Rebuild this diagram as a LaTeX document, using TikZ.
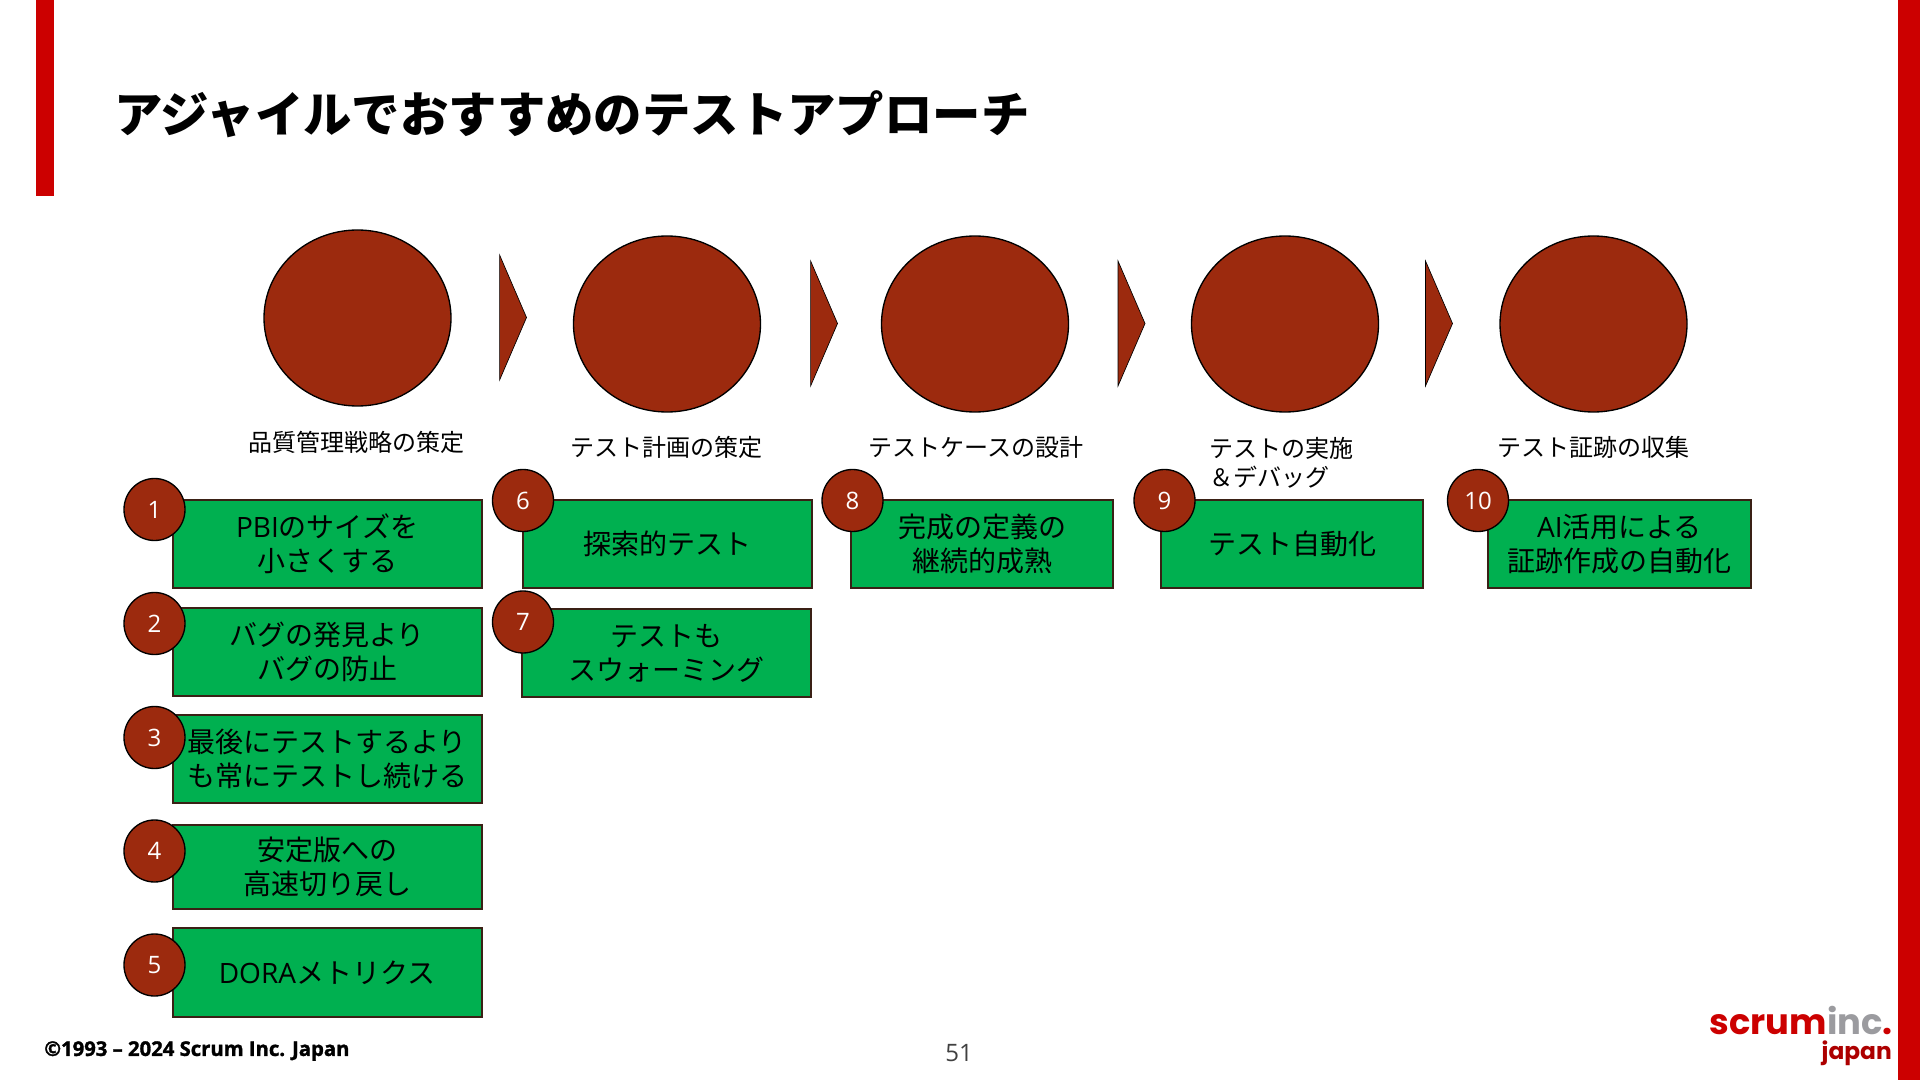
\documentclass[tikz,border=0pt]{standalone}
\usepackage{fontspec}
\usepackage{tikz}
\usetikzlibrary{shapes.geometric}
\setmainfont{Open Sans}
\newfontfamily\jpfont{Noto Sans CJK JP}
\newfontfamily\logofont{Poppins}
\newfontfamily\heavyfont[BoldFeatures={FakeBold=1.5}]{Open Sans}
\definecolor{barred}{HTML}{CC0000}
\definecolor{rust}{HTML}{9C2A0E}
\definecolor{boxgreen}{HTML}{00B050}
\definecolor{edgedark}{HTML}{3A2015}
\definecolor{incgrey}{HTML}{9B9B9F}
\tikzset{
  bar/.style={fill=barred,draw=none},
  bigc/.style={ellipse,draw=black,line width=1pt,fill=rust,minimum width=140.25pt,minimum height=132pt,inner sep=0},
  chev/.style={draw=black,line width=0.5pt,fill=rust},
  numc/.style={ellipse,draw=black,line width=1pt,fill=rust,minimum width=45.75pt,minimum height=46.5pt,inner sep=0,text=white,font=\fontsize{18}{22}\selectfont},
  gbox/.style={rectangle,draw=edgedark,line width=1.5pt,fill=boxgreen,inner sep=0,align=center,font=\fontsize{21}{25.5}\selectfont\jpfont},
  stagelab/.style={inner sep=0,align=center,font=\fontsize{18}{22}\selectfont\jpfont}
}
\begin{document}
\begin{tikzpicture}[x=0.75pt,y=-0.75pt]
\useasboundingbox (0,0) rectangle (1920,1080);
\fill[bar] (36,0) rectangle (54,196);
\fill[bar] (1898,0) rectangle (1920,1080);
\node [anchor=west,inner sep=0,font=\fontsize{36.3}{42}\selectfont\jpfont\bfseries] (title) at (114,114) {アジャイルでおすすめのテストアプローチ};
% stages
\node [bigc] (s1) at (357.5,318) {};
\node [bigc] (s2) at (667,324) {};
\node [bigc] (s3) at (975,324) {};
\node [bigc] (s4) at (1285,324) {};
\node [bigc] (s5) at (1593.5,324) {};
\draw [chev] (499.6,255) -- (526.5,317.5) -- (499.6,380) -- cycle;
\draw [chev] (810.6,261) -- (837.5,323.5) -- (810.6,386) -- cycle;
\draw [chev] (1118,261) -- (1145,323.5) -- (1118,386) -- cycle;
\draw [chev] (1425.5,261) -- (1452.5,323.5) -- (1425.5,386) -- cycle;
\node [stagelab] (l1) at (356.5,442) {品質管理戦略の策定};
\node [stagelab] (l2) at (666.5,447) {テスト計画の策定};
\node [stagelab] (l3) at (976,447) {テストケースの設計};
\node [stagelab,anchor=north west,align=left] (l4) at (1209,437) {テストの実施\\＆デバッグ};
\node [stagelab] (l5) at (1593,447) {テスト証跡の収集};
% green boxes, first column
\node [gbox,minimum width=231.75pt,minimum height=66pt] (b1) at (327,544) {{\rmfamily PBI}のサイズを\\小さくする};
\node [gbox,minimum width=231.75pt,minimum height=66pt] (b2) at (327,652) {バグの発見より\\バグの防止};
\node [gbox,minimum width=231.75pt,minimum height=66pt] (b3) at (327,759) {最後にテストするより\\も常にテストし続ける};
\node [gbox,minimum width=231.75pt,minimum height=63pt] (b4) at (327,867) {安定版への\\高速切り戻し};
\node [gbox,minimum width=231.75pt,minimum height=66.75pt] (b5) at (327,972.5) {{\rmfamily DORA}メトリクス};
% the other columns
\node [gbox,minimum width=216.75pt,minimum height=66pt] (b6) at (667.5,544) {探索的テスト};
\node [gbox,minimum width=216.75pt,minimum height=66pt] (b7) at (666.5,653) {テストも\\スウォーミング};
\node [gbox,minimum width=196.5pt,minimum height=66pt] (b8) at (982,544) {完成の定義の\\継続的成熟};
\node [gbox,minimum width=196.5pt,minimum height=66pt] (b9) at (1292,544) {テスト自動化};
\node [gbox,minimum width=197.25pt,minimum height=66pt] (b10) at (1619.5,544) {{\rmfamily AI}活用による\\証跡作成の自動化};
% numbers
\node [numc] (n1) at (154.5,509.5) {1};
\node [numc] (n2) at (154.5,623.5) {2};
\node [numc] (n3) at (154.5,737.5) {3};
\node [numc] (n4) at (154.5,851) {4};
\node [numc] (n5) at (154.5,965) {5};
\node [numc] (n6) at (523,500.5) {6};
\node [numc] (n7) at (523,622) {7};
\node [numc] (n8) at (852.5,500.5) {8};
\node [numc] (n9) at (1164.5,500.5) {9};
\node [numc] (n10) at (1478,500.5) {10};
% footer
\node [anchor=west,inner sep=0,font=\fontsize{15.2}{18}\selectfont\heavyfont\bfseries] (copy) at (44,1051) {©1993 – 2024 Scrum Inc. Japan};
\node [inner sep=0,text=black!75,font=\fontsize{18}{22}\selectfont] (page) at (959,1053) {51};
\node [anchor=base east,inner sep=0,font=\fontsize{26.5}{30}\selectfont\logofont\bfseries] (logo) at (1893,1034) {\textcolor{barred}{scrum}\textcolor{incgrey}{inc}\textcolor{barred}{.}};
\node [anchor=base east,inner sep=0,text=barred!85!black,font=\fontsize{17.5}{21}\selectfont\logofont\bfseries] (logojp) at (1892,1059) {japan};
\end{tikzpicture}
\end{document}
